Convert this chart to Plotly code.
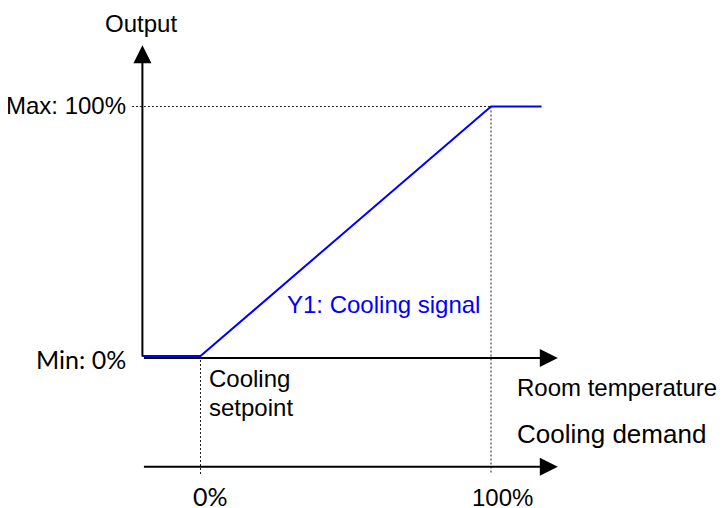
import plotly.graph_objects as go

# ---- data (conceptual units: x = cooling demand %, y = output %) ----
signal_x = [-20, 0, 100, 117.4]
signal_y = [0, 0, 100, 100]
signal_label = "Y1: Cooling signal"

output_levels = [0, 100]
output_labels = ["Min: 0%", "Max: 100%"]

demand_ticks = [0, 100]
demand_tick_labels = ["0%", "100%"]

axis_x_start = -20
axis_x_end = 123
axis_y_end = 124.6
room_axis_y = -0.8
demand_axis_y = -44.4
guide_bottom = -47.3
guide_left = -23.6

ARIAL = "Liberation Sans, Arial, sans-serif"
CALIBRI = "Lato, Carlito, Calibri, sans-serif"

fig = go.Figure()

# dotted guide lines
fig.add_trace(go.Scatter(x=[guide_left, demand_ticks[1]], y=[output_levels[1], output_levels[1]],
                         mode="lines", line=dict(color="#222", width=1, dash="2px,2px"), hoverinfo="skip"))
for t, top in zip(demand_ticks, [output_levels[0], output_levels[1]]):
    fig.add_trace(go.Scatter(x=[t, t], y=[top, guide_bottom], mode="lines",
                             line=dict(color="#222", width=1, dash="2px,2px"), hoverinfo="skip"))

# axis lines (arrows)
def arrow(x0, y0, x1, y1):
    fig.add_annotation(x=x1, y=y1, ax=x0, ay=y0, xref="x", yref="y", axref="x", ayref="y",
                       text="", showarrow=True, arrowhead=2, arrowsize=1.8, arrowwidth=2,
                       arrowcolor="black")

arrow(axis_x_start, room_axis_y, axis_x_start, axis_y_end)
arrow(axis_x_start, room_axis_y, axis_x_end, room_axis_y)
arrow(axis_x_start, demand_axis_y, axis_x_end, demand_axis_y)

# cooling signal
fig.add_trace(go.Scatter(x=signal_x, y=signal_y, mode="lines",
                         line=dict(color="#0000ff", width=2), hoverinfo="skip"))

def label(x, y, text, xanchor="left", font=ARIAL, color="black", size=24):
    fig.add_annotation(x=x, y=y, xref="x", yref="y", text=text, showarrow=False,
                       xanchor=xanchor, yanchor="middle",
                       font=dict(family=font, size=size, color=color))

label(-20.6, 133.3, "Output", xanchor="center")
label(-24.9, output_levels[1] + 0.4, output_labels[1], xanchor="right")
label(-24.9, output_levels[0] - 1.2, output_labels[0], xanchor="right", font=CALIBRI, size=25)
label(2.2, -9.2, "Cooling")
label(2.2, -20.6, "setpoint")
label(108.3, -12.6, "Room temperature")
label(108.3, -31.3, "Cooling demand", size=26)
label(29.1, 20.8, signal_label, color="#0000ff")
label(demand_ticks[0] + 3.4, -56.1, demand_tick_labels[0], xanchor="center", font=CALIBRI, size=25)
label(demand_ticks[1] + 4.1, -56.7, demand_tick_labels[1], xanchor="center")

# The page body has an 8px margin: figure is 717x500 and ranges account for the offset
fig.update_layout(
    width=717, height=500, margin=dict(l=0, r=0, t=0, b=0),
    paper_bgcolor="white", plot_bgcolor="white", showlegend=False,
    xaxis=dict(visible=False, range=[-66.27, 180.55], fixedrange=True),
    yaxis=dict(visible=False, range=[-60.92, 139.48], fixedrange=True),
)

fig.write_html("out.html")
